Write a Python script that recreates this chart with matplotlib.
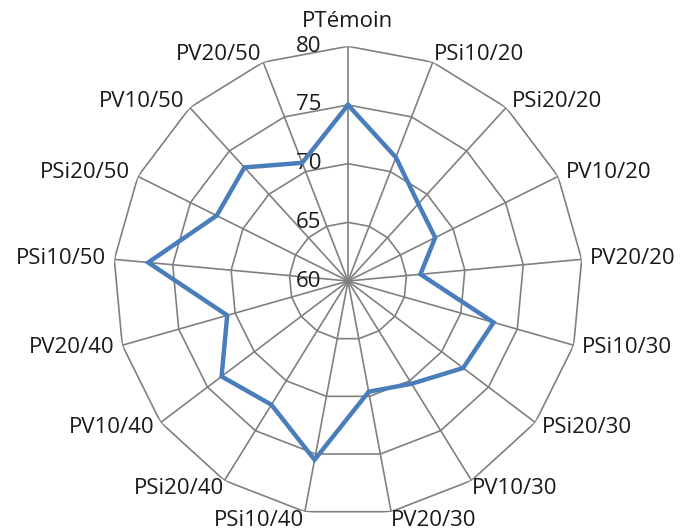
import numpy as np
import matplotlib.pyplot as plt

plt.rcParams['font.family'] = ['Open Sans', 'DejaVu Sans']

categories = ["PTémoin", "PSi10/20", "PSi20/20", "PV10/20", "PV20/20", "PSi10/30",
              "PSi20/30", "PV10/30", "PV20/30", "PSi10/40", "PSi20/40", "PV10/40",
              "PV20/40", "PSi10/50", "PSi20/50", "PV10/50", "PV20/50"]
values = [75.0, 71.3, 68.9, 68.3, 66.2, 72.9, 72.3, 70.3, 69.6, 75.5, 72.4, 73.5,
          70.7, 77.1, 72.5, 73.1, 70.8]
rings = [60, 65, 70, 75, 80]

grid_col = "#808080"
line_col = "#4A7EBB"

n = len(categories)
theta = np.arange(n) * 2 * np.pi / n
theta_c = np.append(theta, theta[0])

fig = plt.figure(figsize=(6.83, 5.32), dpi=100)
ax = fig.add_axes([0.1659, 0.0306, 0.6872, 0.8824], projection="polar")
ax.set_theta_zero_location("N")
ax.set_theta_direction(-1)
ax.set_ylim(60, 80)
ax.grid(False)
ax.spines["polar"].set_visible(False)
ax.set_xticks([])
ax.set_yticks([])
ax.patch.set_alpha(0)

# polygon grid + spokes
for r in rings[1:]:
    ax.plot(theta_c, [r] * (n + 1), color=grid_col, lw=1.2, zorder=1)
for t in theta:
    ax.plot([t, t], [60, 80], color=grid_col, lw=1.2, zorder=1)

# data line
vals_c = values + values[:1]
ax.plot(theta_c, vals_c, color=line_col, lw=3.2, zorder=3, solid_joinstyle="miter")

# category labels
for t, lab in zip(theta, categories):
    s, c = np.sin(t), np.cos(t)
    ha = "left" if s > 0.05 else ("right" if s < -0.05 else "center")
    if c > 0.99:
        va, dx, dy = "baseline", 0, 14
    elif c >= 0.8:
        va, dx, dy = "baseline", 3 * s, 1.5
    elif c <= -0.8:
        va, dx, dy = "baseline", 1 * s, -10
    else:
        va, dx, dy = "center", 6 * s, 6 * c
    ax.annotate(lab, xy=(t, 80), xytext=(dx, dy), textcoords="offset points",
                ha=ha, va=va, fontsize=16, color="#1a1a1a", annotation_clip=False)

# radial tick labels
for r in rings:
    ax.annotate(str(r), xy=(0, r), xytext=(-19, 0), textcoords="offset points",
                ha="right", va="center", fontsize=16, color="#1a1a1a", zorder=2,
                annotation_clip=False)

fig.savefig("out.png", dpi=100)
